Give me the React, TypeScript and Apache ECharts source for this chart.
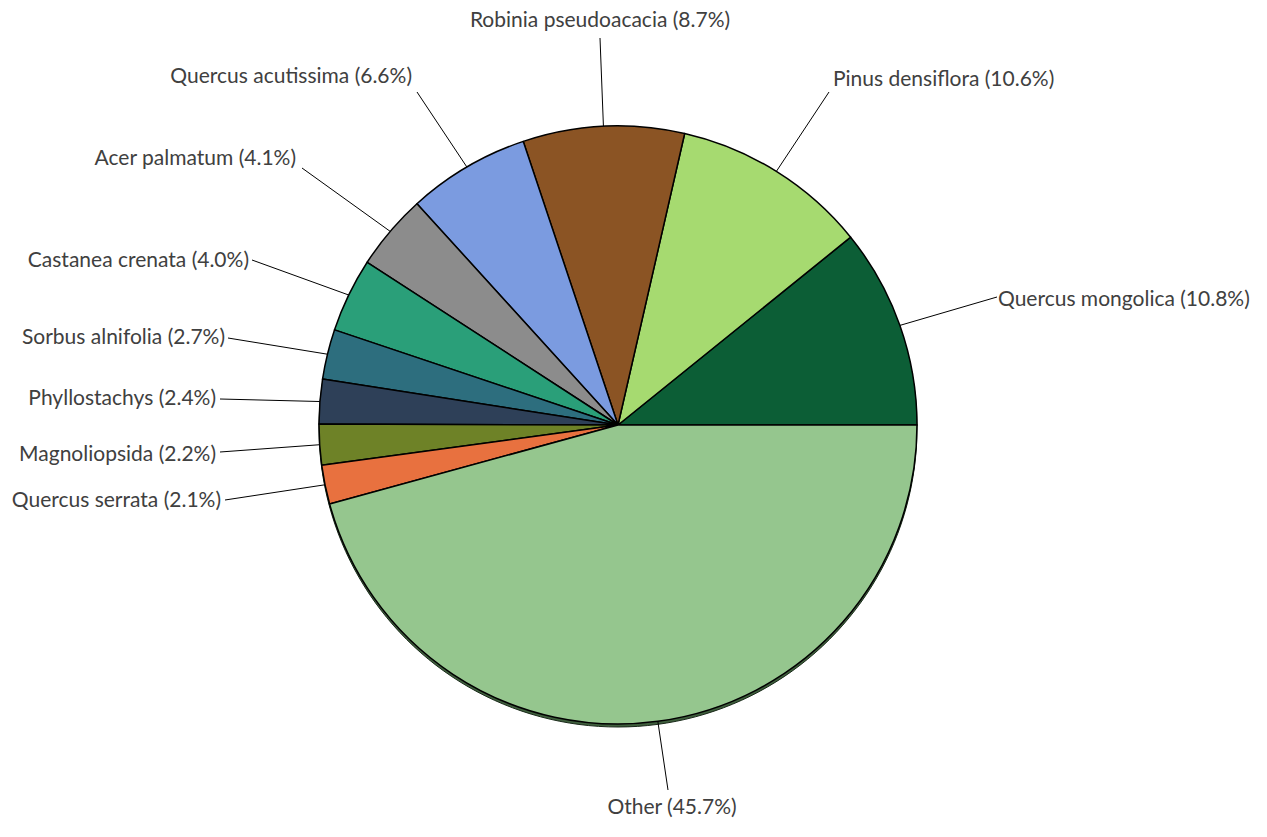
import React, { useEffect, useRef } from "react";
import * as echarts from "echarts";

const species = [
  "Quercus mongolica",
  "Pinus densiflora",
  "Robinia pseudoacacia",
  "Quercus acutissima",
  "Acer palmatum",
  "Castanea crenata",
  "Sorbus alnifolia",
  "Phyllostachys",
  "Magnoliopsida",
  "Quercus serrata",
  "Other",
];
const shares = [10.8, 10.6, 8.7, 6.6, 4.1, 4.0, 2.7, 2.4, 2.2, 2.1, 45.7];
const sliceColors = [
  "#0c5e36",
  "#a6da70",
  "#8b5424",
  "#7b9be0",
  "#8c8c8c",
  "#2a9f79",
  "#2d6e7e",
  "#2e4058",
  "#6e8227",
  "#e8713f",
  "#95c68e",
];

// label placement: [x, y, align, anchorX, anchorY] (layout only)
const labelPlacement: [number, number, string, number, number][] = [
  [998, 297, "left", 997, 297],
  [833, 77, "left", 829, 92],
  [600, 18, "center", 600, 38],
  [412, 74, "right", 417, 92],
  [296, 156, "right", 302, 168],
  [249, 258, "right", 252, 260],
  [225, 335, "right", 228, 338],
  [216, 396, "right", 220, 399],
  [216, 452, "right", 220, 452],
  [221, 498, "right", 225, 500],
  [672, 805, "center", 668, 790],
];

export default function App() {
  const ref = useRef<HTMLDivElement>(null);
  useEffect(() => {
    const chart = echarts.init(ref.current!, null, { renderer: "svg" });
    const data = species.map((name, i) => ({
      name,
      value: shares[i],
      itemStyle: { color: sliceColors[i] },
    }));
    chart.setOption({
      animation: false,
      backgroundColor: "#ffffff",
      series: [
        {
          type: "pie",
          silent: true,
          center: [618, 428],
          radius: [0, 299],
          startAngle: 0,
          clockwise: false,
          label: { show: false },
          labelLine: { show: false },
          itemStyle: { color: "#3f5f3d", borderColor: "#1a2a1a", borderWidth: 1 },
          data: [{ name: "shadow", value: 1 }],
          z: 1,
        },
        {
          type: "pie",
          center: [618, 425],
          radius: [0, 299],
          startAngle: 0,
          clockwise: false,
          avoidLabelOverlap: false,
          itemStyle: { borderColor: "#000000", borderWidth: 1.5 },
          label: {
            show: true,
            formatter: (p: any) => `${p.name} (${Number(p.value).toFixed(1)}%)`,
            fontFamily: "Lato",
            fontSize: 21,
            color: "#404040",
          },
          labelLine: {
            show: true,
            length: 20,
            length2: 0,
            lineStyle: { color: "#000000", width: 1 },
          },
          labelLayout: (params: any) => {
            const pl = labelPlacement[params.dataIndex];
            const start = params.labelLinePoints ? params.labelLinePoints[0] : [pl[3], pl[4]];
            return {
              x: pl[0],
              y: pl[1],
              align: pl[2],
              verticalAlign: "middle",
              labelLinePoints: [start, [pl[3], pl[4]]],
            };
          },
          data,
          z: 2,
        },
      ],
    });
    return () => chart.dispose();
  }, []);
  return (
    <div
      ref={ref}
      style={{ position: "absolute", left: 0, top: 0, width: 1267, height: 837 }}
    />
  );
}
